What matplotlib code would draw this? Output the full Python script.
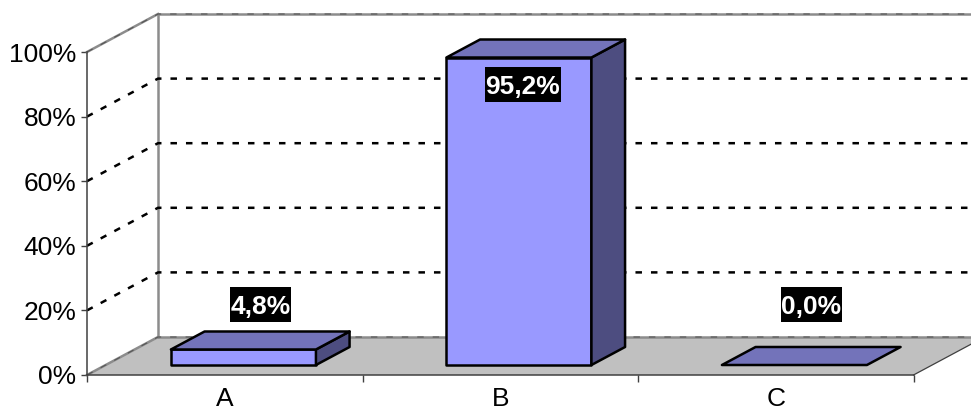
import matplotlib
matplotlib.use("Agg")
from matplotlib import pyplot as plt
from matplotlib.patches import Polygon, Rectangle
from matplotlib.transforms import IdentityTransform

categories = ["A", "B", "C"]
values = [4.8, 95.2, 0.0]
labels = ["4,8%", "95,2%", "0,0%"]
y_ticks = [0, 20, 40, 60, 80, 100]
y_tick_labels = ["0%", "20%", "40%", "60%", "80%", "100%"]

plt.rcParams["font.family"] = ["Liberation Sans", "DejaVu Sans"]

W, H = 971, 412
fig = plt.figure(figsize=(W / 100, H / 100), dpi=100, facecolor="white")
ax = fig.add_axes([87 / W, (H - 375) / H, 826.5 / W, 323 / H])
ax.set_xlim(0, 3)
ax.set_ylim(0, 100)
ax.patch.set_visible(False)

# depth of the fake 3D box, in data units
depth_x = 71 / 275.5
depth_y = 38 / 3.23


def p(x, y, d):
    return (x + d * depth_x, y + d * depth_y)


def face(pts, color, z, edge="none", lw=0):
    ax.add_patch(Polygon(pts, closed=True, facecolor=color, edgecolor=edge, linewidth=lw,
                         joinstyle="round", zorder=z, clip_on=False))


wall = "#8c8c8c"
dash = (0, (2.6, 3.6))

# floor
face([p(0, 0, 0), p(3, 0, 0), p(3, 0, 1), p(0, 0, 1)], "#c0c0c0", 1)

# wall lines
for a, b in [(p(0, 100, 0), p(0, 100, 1)), (p(0, 100, 1), p(3, 100, 1)), (p(0, 100, 1), p(0, 0, 1)),
             (p(0, 0, 1), p(3, 0, 1)), (p(0, 0, 0), p(0, 0, 1))]:
    ax.plot([a[0], b[0]], [a[1], b[1]], color=wall, lw=1.8, zorder=2, clip_on=False)
ax.plot([3, 3 + depth_x], [0, depth_y], color="#404040", lw=0.9, zorder=2, clip_on=False)

# dashed grid, side wall then back wall; the two on the wall edges barely show
for t in y_ticks:
    a, b, c = p(0, t, 0), p(0, t, 1), p(3, t, 1)
    if t in (0, 100):
        ax.plot([a[0], b[0], c[0]], [a[1], b[1], c[1]], color="#555555", lw=0.8,
                linestyle=(0, (5.8, 8.1)), dash_capstyle="butt", zorder=3, clip_on=False)
    else:
        ax.plot([a[0], b[0], c[0]], [a[1], b[1], c[1]], color="black", lw=1.8, linestyle=dash,
                dash_capstyle="butt", zorder=3, clip_on=False)

# bars
bar_w = 145 / 275.5
d0 = 10 / 38
d1 = 28 / 38
edge = "black"
for i in range(len(categories)):
    x0 = i + 0.5 - bar_w / 2
    x1 = x0 + bar_w
    v = values[i]
    if v > 0:
        face([p(x0, 0, d0), p(x1, 0, d0), p(x1, v, d0), p(x0, v, d0)], "#9999ff", 5, edge, 1.8)
        face([p(x1, 0, d0), p(x1, 0, d1), p(x1, v, d1), p(x1, v, d0)], "#4d4d80", 5, edge, 1.8)
    face([p(x0, v, d0), p(x1, v, d0), p(x1, v, d1), p(x0, v, d1)], "#7373ba", 5, edge, 1.8)

# data labels, offset in px from the bar top centre, black box drawn to fit the text
label_off = [(0, 36), (-13, -36), (0, 52)]
box_h = 35
renderer = fig.canvas.get_renderer()
for i in range(len(categories)):
    cx, cy = p(i + 0.5, values[i], (d0 + d1) / 2)
    t = ax.annotate(labels[i], xy=(cx, cy), xytext=(label_off[i][0] * 0.72, label_off[i][1] * 0.72),
                    textcoords="offset points", ha="center", va="center_baseline", color="white",
                    fontsize=19, fontweight="bold", zorder=7, annotation_clip=False)
    box_w = t.get_window_extent(renderer).width + 1
    px, py = ax.transData.transform((cx, cy))
    px += label_off[i][0]
    py += label_off[i][1]
    ax.add_artist(Rectangle((px - box_w / 2, py - box_h / 2), box_w, box_h, facecolor="black",
                            edgecolor="none", transform=IdentityTransform(), zorder=6, clip_on=False))

# axes
for s in ["top", "right"]:
    ax.spines[s].set_visible(False)
for s in ["left", "bottom"]:
    ax.spines[s].set_color("#404040")
    ax.spines[s].set_linewidth(1.1)
    ax.spines[s].set_zorder(4)
ax.set_yticks(y_ticks)
ax.set_yticklabels(y_tick_labels)
ax.set_xticks([0, 1, 2, 3])
ax.set_xticklabels([])
ax.set_xticks([0.5, 1.5, 2.5], minor=True)
ax.set_xticklabels(categories, minor=True)
ax.tick_params(axis="y", length=4, width=1, color="#404040", labelsize=19, pad=3.5, labelcolor="black")
ax.tick_params(axis="x", which="major", length=5, width=1, color="#404040")
ax.tick_params(axis="x", which="minor", length=0, labelsize=19, pad=9, labelcolor="black")

fig.savefig("out.png", dpi=100)
